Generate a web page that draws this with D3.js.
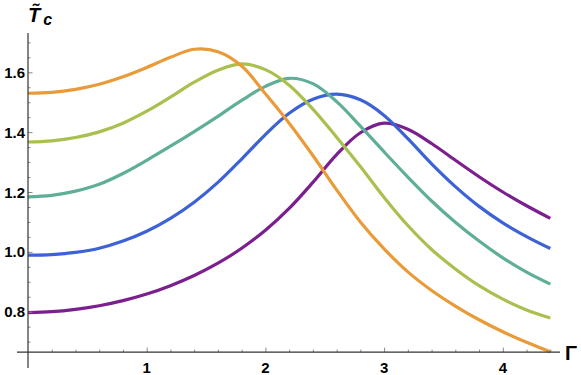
<!DOCTYPE html>
<html>
<head>
<meta charset="utf-8">
<script src="https://cdn.jsdelivr.net/npm/d3@7"></script>
<style>
  body { margin: 0; background: #fff; }
  text { font-family: "Liberation Sans", Arial, sans-serif; }
</style>
</head>
<body>
<div id="chart"></div>
<script>
/* global d3:false */
(function() {

// data
var gammas = [0, 0.2, 0.4, 0.6, 0.8, 1.0, 1.2, 1.4, 1.6, 1.8, 2.0, 2.2,
              2.4, 2.6, 2.8, 3.0, 3.2, 3.4, 3.6, 3.8, 4.0, 4.2, 4.4];
var tcPurple = [0.797, 0.800, 0.808, 0.820, 0.837, 0.859, 0.887, 0.921, 0.962, 1.012, 1.072, 1.145,
                1.232, 1.325, 1.398, 1.430, 1.410, 1.362, 1.306, 1.251, 1.200, 1.154, 1.112];
var tcBlue   = [0.989, 0.991, 0.998, 1.012, 1.036, 1.069, 1.112, 1.166, 1.232, 1.310, 1.392, 1.463,
                1.510, 1.527, 1.508, 1.456, 1.378, 1.294, 1.218, 1.152, 1.097, 1.051, 1.011];
var tcTeal   = [1.184, 1.189, 1.203, 1.226, 1.262, 1.306, 1.353, 1.402, 1.453, 1.506, 1.553, 1.580,
                1.562, 1.502, 1.420, 1.334, 1.250, 1.170, 1.099, 1.036, 0.980, 0.932, 0.892];
var tcGreen  = [1.367, 1.371, 1.382, 1.401, 1.430, 1.470, 1.517, 1.567, 1.607, 1.628, 1.609, 1.557,
                1.477, 1.383, 1.285, 1.182, 1.088, 1.008, 0.943, 0.887, 0.842, 0.806, 0.779];
var tcOrange = [1.530, 1.533, 1.543, 1.560, 1.585, 1.616, 1.650, 1.677, 1.669, 1.621, 1.528, 1.430,
                1.322, 1.207, 1.100, 1.010, 0.933, 0.871, 0.819, 0.773, 0.733, 0.698, 0.666];
var seriesColors = ["#7b1f8e", "#3d62d6", "#5fae98", "#a9bf4e", "#e89b38"];
var xTicks = [1, 2, 3, 4];
var yTicks = [0.8, 1.0, 1.2, 1.4, 1.6];

var series = [tcPurple, tcBlue, tcTeal, tcGreen, tcOrange];

var width = 581, height = 375;

var svg = d3.select("#chart")
  .append("svg")
  .attr("width", width)
  .attr("height", height);

var x = d3.scaleLinear().domain([0, 4.4]).range([28, 550.3]);
var y = d3.scaleLinear().domain([0.8, 1.6]).range([311.7, 72.3]);
var yBase = 0.665;

var axisColor = "#333";
var tickColor = "#888";

/* Curves */
var line = d3.line()
  .x(function(d) { return x(d[0]); })
  .y(function(d) { return y(d[1]); })
  .curve(d3.curveCatmullRom);

svg.append("g").selectAll("path")
  .data(series)
  .enter().append("path")
    .attr("d", function(vals) {
      return line(gammas.map(function(g, i) { return [g, vals[i]]; }));
    })
    .style("fill", "none")
    .style("stroke", function(d, i) { return seriesColors[i]; })
    .style("stroke-width", 3.2)
    .style("stroke-linecap", "butt");

/* Axes */
var yAxisG = svg.append("g").attr("transform", "translate(" + x(0) + ",0)");
var xAxisG = svg.append("g").attr("transform", "translate(0," + y(yBase) + ")");

// minor ticks
var xMinor = d3.range(0.2, 4.45, 0.2).filter(function(v) {
  return Math.abs(v - Math.round(v)) > 0.01;
});
xAxisG.call(d3.axisTop(x).tickValues(xMinor).tickSize(2.5).tickFormat(""));
var yMinor = d3.range(0.70, 1.72, 0.05).filter(function(v) {
  return Math.abs(v * 5 - Math.round(v * 5)) > 0.01;
});
yAxisG.call(d3.axisRight(y).tickValues(yMinor).tickSize(2.5).tickFormat(""));

// major ticks
xAxisG.append("g").call(d3.axisTop(x).tickValues(xTicks).tickSize(4.5).tickFormat(""));
yAxisG.append("g").call(d3.axisRight(y).tickValues(yTicks).tickSize(4.5).tickFormat(""));

svg.selectAll(".domain").remove();
svg.selectAll(".tick line").style("stroke", tickColor).style("stroke-width", 1);

// axis lines
svg.append("line")
  .attr("x1", 17).attr("x2", 560)
  .attr("y1", y(yBase)).attr("y2", y(yBase))
  .style("stroke", axisColor).style("stroke-width", 1.2);
svg.append("line")
  .attr("x1", x(0)).attr("x2", x(0))
  .attr("y1", 33).attr("y2", 368)
  .style("stroke", axisColor).style("stroke-width", 1.2);

// tick labels
svg.append("g").selectAll("text")
  .data(xTicks)
  .enter().append("text")
    .attr("x", function(d) { return x(d); })
    .attr("y", y(yBase) + 21)
    .attr("text-anchor", "middle")
    .style("font-size", "15px")
    .style("font-weight", "bold")
    .text(function(d) { return d; });

svg.append("g").selectAll("text")
  .data(yTicks)
  .enter().append("text")
    .attr("x", 25)
    .attr("y", function(d) { return y(d) + 5.5; })
    .attr("text-anchor", "end")
    .style("font-size", "15px")
    .style("font-weight", "bold")
    .text(function(d) { return d3.format(".1f")(d); });

// axis labels
svg.append("text")
  .attr("x", 565).attr("y", y(yBase) + 8)
  .style("font-size", "20px")
  .style("font-weight", "bold")
  .text("Γ");

var tLabel = svg.append("text")
  .attr("x", 28).attr("y", 22)
  .style("font-size", "20px")
  .style("font-weight", "bold")
  .style("font-style", "italic");
tLabel.append("tspan").text("T\u0303");
tLabel.append("tspan").attr("dx", 3).attr("dy", 3).style("font-size", "16px").text("c");

})();
</script>
</body>
</html>
